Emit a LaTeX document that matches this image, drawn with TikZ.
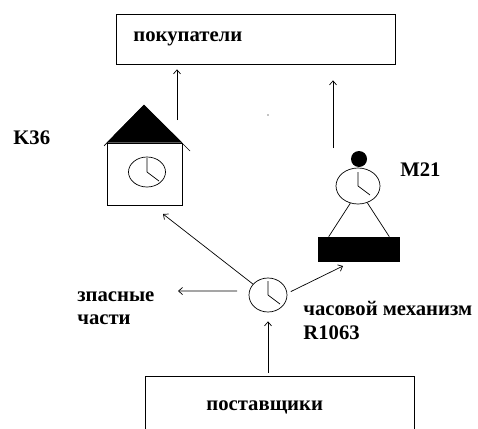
\documentclass[tikz,border=0pt]{standalone}
\usepackage{fontspec}
\setmainfont{Liberation Serif}
\usepackage{tikz}
\usetikzlibrary{shapes.geometric}
\usetikzlibrary{arrows.meta}

\begin{document}
\begin{tikzpicture}[x=1pt,y=-1pt,line width=.7pt,
  flow/.style={-{Straight Barb[length=4pt,width=7pt]}},
  box/.style={draw,rectangle,inner sep=0pt},
  clock/.style={draw,ellipse,inner sep=0pt},
  lbl/.style={font=\fontsize{20.7}{23}\selectfont\bfseries,inner sep=0pt,anchor=base west}]
\useasboundingbox (0,0) rectangle (478,428);
\clip (0,0) rectangle (478,428);

% buyers and suppliers
\node [box,minimum width=279pt,minimum height=50pt] (buyers) at (255.5,39) {};
\node [lbl] (buyersname) at (133,41.5) {покупатели};
\node [box,minimum width=269pt,minimum height=60pt] (suppliers) at (279.5,406) {};
\node [lbl] (suppliersname) at (206,410) {поставщики};

% K36 house
\node [box,minimum width=75pt,minimum height=62pt] (k36) at (144.5,174) {};
\coordinate (roof) at (144,105);
\fill (roof) -- (k36.north west) -- (k36.north east) -- cycle;
\draw (104,146) -- (roof) -- (190,151);
\node [clock,minimum width=37pt,minimum height=30pt] (k36clock) at (147,172) {};
\node [lbl] (k36name) at (13,144) {K36};

% M21 figure
\fill (359,159) circle [radius=8];
\node [clock,minimum width=44pt,minimum height=36pt] (m21clock) at (358,186) {};
\node [fill,minimum width=82pt,minimum height=25pt,inner sep=0pt] (weight) at (359,249.5) {};
\draw (m21clock.246) -- (weight.157);
\draw (m21clock.299) -- (weight.23);
\node [lbl] (m21name) at (400,176) {M21};

% clockwork
\node [clock,minimum width=38pt,minimum height=34pt] (mech) at (268,295) {};
\node [lbl] (spares) at (77,301) {зпасные};
\node [lbl] (spares2) at (77,324) {части};
\node [lbl] (mechname) at (303,315) {часовой механизм};
\node [lbl] (mechname2) at (303,339) {R1063};

% hands
\foreach \c in {k36clock,m21clock,mech}
  \draw (\c.center) -- ++(0,-14) (\c.center) -- ++(12,9);

% arrows
\coordinate (k36out) at (177,120);
\draw [flow,shorten >=5pt] (k36out) -- (k36out |- buyers.south);
\coordinate (m21out) at (333,148);
\draw [flow,shorten >=16pt] (m21out) -- (m21out |- buyers.south);

\coordinate (k36in) at (163,214);
\draw [flow] (mech.144) -- (k36in);
\coordinate (weightin) at (343,266);
\draw [flow,shorten <=4pt] (mech.5) -- (weightin);
\coordinate (sparesin) at (178,291);
\draw [flow,shorten <=12pt] (mech.168) -- (sparesin);
\draw [flow,shorten <=3pt,shorten >=9pt] (mech.south |- suppliers.north) -- (mech.south);

\fill (268,115) circle [radius=.6];
\end{tikzpicture}
\end{document}
